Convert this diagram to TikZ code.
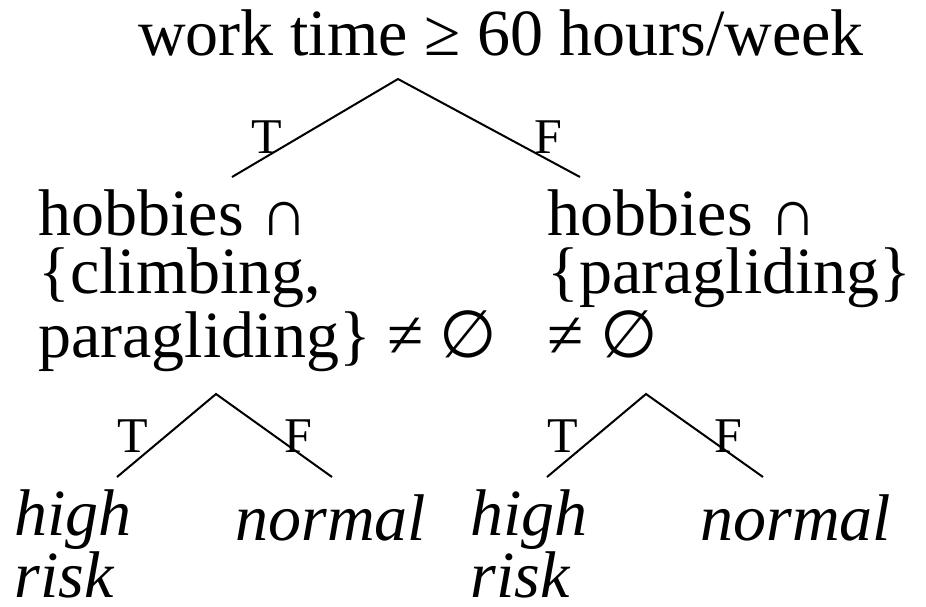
\documentclass[tikz,border=0pt]{standalone}
\usepackage{fontspec}
\setmainfont{Liberation Serif}
\newfontfamily\symfont{DejaVu Sans}
\usetikzlibrary{positioning}
\newcommand{\emptyst}{{\symfont ∅}}
\tikzset{
  test/.style={inner sep=0pt,align=left,anchor=base west,
    font=\fontsize{33}{29}\selectfont},
  outcome/.style={test,font=\fontsize{33}{29}\selectfont\itshape},
  lbl/.style={inner sep=0pt,anchor=base,font=\fontsize{25}{28}\selectfont},
  branch/.style={line width=1pt},
}

\begin{document}
\begin{tikzpicture}[x=0.5pt,y=-0.5pt]
    \useasboundingbox (0,0) rectangle (926,606);
    % root test
    \node[test,anchor=base] (work) at (501,55) {work time ≥ 60 hours/week};
    \coordinate (work-s) at (398,79);
    \coordinate (t1) at (232,177); \coordinate (f1) at (580,177);
    \draw[branch] (t1) -- (work-s) -- (f1);
    \node[lbl] (lt1) at (267,153) {T}; \node[lbl] (lf1) at (548,153) {F};
    % second level (base = last line)
    \node[test] (hobA) at (38,357) {hobbies ∩\\\{climbing,\\paragliding\} ≠ \emptyst};
    \node[test] (hobB) at (547,357) {hobbies ∩\\\{paragliding\}\\≠ \emptyst};
    \coordinate (hobA-s) at (216,394);
    \coordinate (t2) at (117,477); \coordinate (f2) at (332,477);
    \draw[branch] (t2) -- (hobA-s) -- (f2);
    \node[lbl] (lt2) at (133,452) {T}; \node[lbl] (lf2) at (298,452) {F};
    \coordinate (hobB-s) at (646,394);
    \coordinate (t3) at (547,477); \coordinate (f3) at (763,477);
    \draw[branch] (t3) -- (hobB-s) -- (f3);
    \node[lbl] (lt3) at (563,452) {T}; \node[lbl] (lf3) at (728,452) {F};
    % leaves
    \node[outcome] (riskA) at (14,597) {high\\risk};
    \node[outcome] (normA) at (235,540) {normal};
    \node[outcome] (riskB) at (470,597) {high\\risk};
    \node[outcome] (normB) at (700,540) {normal};
\end{tikzpicture}
\end{document}
